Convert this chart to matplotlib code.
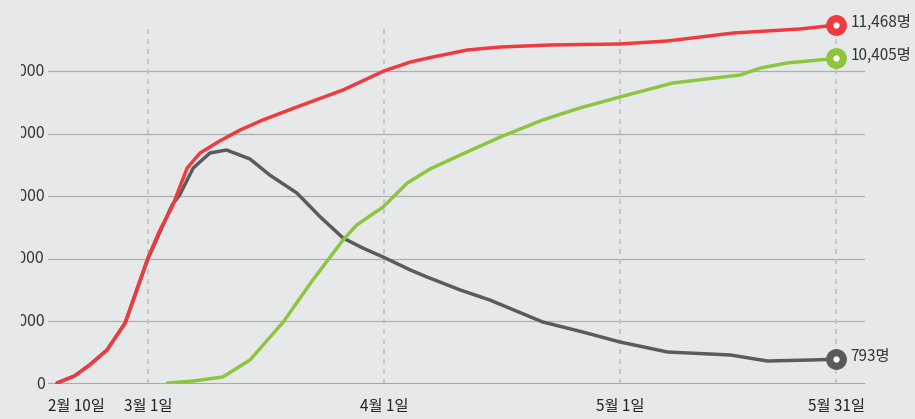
import matplotlib.pyplot as plt
from matplotlib.transforms import Bbox, TransformedBbox

plt.rcParams['font.family'] = ['Noto Sans CJK KR', 'DejaVu Sans']

# x: days from 3월 1일 (as laid out on the chart)
red_x = [-12.0, -9.7, -7.7, -5.4, -3.0, 0, 1.6, 3.2, 5.2, 6.9, 9.5, 12.2, 15.2, 19.7,
         25.8, 31.2, 34.7, 37.7, 42.2, 46.6, 53.2, 62.4, 68.7, 77.4, 86.2, 91.0]
red_y = [32, 256, 607, 1087, 1949, 4026, 4920, 5655, 6901, 7380, 7764, 8115, 8435, 8850,
         9393, 10000, 10288, 10448, 10671, 10767, 10831, 10863, 10959, 11214, 11342, 11468]

grey_x = [-12.0, -9.7, -7.7, -5.4, -3.0, 0, 1.6, 3.2, 4.2, 6.0, 8.2, 10.4, 13.5, 16.1,
          19.7, 22.8, 25.8, 28.4, 31.1, 34.7, 36.9, 41.3, 45.2, 52.2, 57.5, 62.4, 68.7,
          77.0, 81.9, 87.6, 91.0]
grey_y = [32, 256, 607, 1087, 1949, 3994, 4856, 5719, 6039, 6901, 7380, 7476, 7189, 6678,
          6102, 5336, 4665, 4345, 4058, 3642, 3419, 3003, 2684, 1981, 1661, 1342, 1022,
          927, 735, 767, 793]

green_x = [2.6, 6.0, 9.9, 13.5, 17.9, 21.8, 25.8, 27.6, 31.1, 34.3, 37.3, 41.3, 46.6,
           52.2, 57.1, 62.4, 69.4, 78.3, 81.0, 84.5, 91.0]
green_y = [32, 96, 224, 767, 1981, 3323, 4601, 5080, 5655, 6422, 6869, 7316, 7892,
           8435, 8818, 9170, 9617, 9873, 10096, 10256, 10405]

tick_pos = [-9.5, 0, 31.2, 62.4, 91.0]
tick_labels = ['2월 10일', '3월 1일', '4월 1일', '5월 1일', '5월 31일']
month_lines = [0, 31.2, 62.4, 91.0]
y_ticks = [0, 2000, 4000, 6000, 8000, 10000]

bg = '#e7e8ea'
fig = plt.figure(figsize=(9.15, 4.19), dpi=100, facecolor=bg)
ax = fig.add_axes([48 / 915, 35 / 419, 817 / 915, 375.6 / 419])
ax.set_facecolor(bg)
ax.set_xlim(-13.2, 94.8)
ax.set_ylim(0, 12000)
for s in ax.spines.values():
    s.set_visible(False)

# grid
for v in y_ticks[1:]:
    ax.axhline(v, color='#afafaf', lw=0.9, zorder=1)
ax.axhline(0, color='#a8a8a8', lw=2.2, zorder=2)
ax.vlines(month_lines, 0, 11400, colors='#c2c2c2', linestyles=(0, (3, 3)), lw=1.2, zorder=1)

# lines
ax.plot(grey_x, grey_y, color='#5b5b5d', lw=2.5, zorder=3, solid_capstyle='round')
ax.plot(green_x, green_y, color='#8cc63f', lw=2.5, zorder=4, solid_capstyle='round')
ax.plot(red_x, red_y, color='#ef3b3e', lw=2.5, zorder=5, solid_capstyle='round')

for xs, ys, c in [(red_x, red_y, '#ef3b3e'), (green_x, green_y, '#8cc63f'),
                  (grey_x, grey_y, '#5b5b5d')]:
    ax.plot(xs[-1], ys[-1], 'o', ms=14, color=c, zorder=6)
    ax.plot(xs[-1], ys[-1], 'o', ms=3.5, color='white', zorder=7)
    ax.annotate(f'{ys[-1]:,}명', (xs[-1], ys[-1]), xytext=(10, 2),
                textcoords='offset points', ha='left', va='center',
                fontsize=11, color='#333333', annotation_clip=False)

ax.set_xticks(tick_pos)
ax.set_xticklabels(tick_labels, fontsize=11, color='#222222')
ax.tick_params(axis='x', length=0, pad=10)
ax.set_yticks([])

# y labels, cut at the left edge like the source
clip = TransformedBbox(Bbox([[21 / 915, 0], [1, 1]]), fig.transFigure)
for v in y_ticks:
    t = fig.text(-0.004, v, f'{v:,}', transform=ax.get_yaxis_transform(),
                 ha='right', va='center', fontsize=11.5, color='#333333')
    t.set_clip_box(clip)
    t.set_clip_on(True)

fig.savefig('out.png', dpi=100, facecolor=bg)
